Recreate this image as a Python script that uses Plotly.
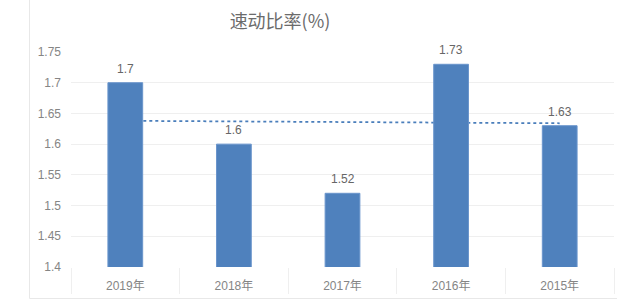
import plotly.graph_objects as go

categories = ["2019年", "2018年", "2017年", "2016年", "2015年"]
values = [1.7, 1.6, 1.52, 1.73, 1.63]
trend = [1.638, 1.637, 1.636, 1.635, 1.634]
ytick_vals = [1.4, 1.45, 1.5, 1.55, 1.6, 1.65, 1.7, 1.75]
ytick_text = ["1.4", "1.45", "1.5", "1.55", "1.6", "1.65", "1.7", "1.75"]
title = "速动比率(%)"

W, H = 617, 307
L, R, T, B = 71, 3, 52, 40
pw = W - L - R
ph = H - T - B

def px_x(x):
    return (x - L) / pw

def px_y(y):
    return (H - B - y) / ph

FONT = "Liberation Sans, Arial, Noto Sans CJK SC, sans-serif"

fig = go.Figure()
fig.add_trace(go.Scatter(
    x=categories, y=trend, mode="lines",
    line=dict(color="#4a7ebb", width=1.75, dash="dot"),
    hoverinfo="skip", showlegend=False, zorder=-1,
))
fig.add_trace(go.Bar(
    x=categories, y=values,
    marker=dict(color="#4f81bd", line=dict(color="#6a95cc", width=1)),
    width=0.32, showlegend=False, zorder=0,
))

for c, v in zip(categories, values):
    fig.add_annotation(x=c, y=v, text=str(v), showarrow=False,
                       yanchor="bottom", yshift=5,
                       font=dict(family=FONT, size=12, color="#666666"))

fig.update_layout(
    width=W, height=H,
    margin=dict(l=L, r=R, t=T, b=B),
    paper_bgcolor="white", plot_bgcolor="white",
    font=dict(family=FONT, color="#7f7f7f", size=12),
    title=dict(text=title, xref="container", x=280 / W, xanchor="center",
               yref="container", y=1 - 22 / H, yanchor="middle",
               font=dict(family="Noto Sans CJK SC, " + FONT, size=18, color="#6b6b6b")),
    xaxis=dict(
        type="category", showgrid=False, tickson="boundaries",
        ticks="outside", ticklen=26, tickcolor="#efefef", tickwidth=1,
        showline=True, linecolor="#e6e6e6", linewidth=1,
        ticklabelstandoff=8,
        tickfont=dict(family=FONT + ", Noto Sans CJK SC", size=12, color="#858585"),
        range=[-0.5, 4.5],
    ),
    yaxis=dict(
        range=[1.4, 1.75], tickvals=ytick_vals, ticktext=ytick_text,
        showgrid=True, gridcolor="#efefef", gridwidth=1, zeroline=False,
        showline=False, ticks="", ticklabelstandoff=9,
        tickfont=dict(family=FONT, size=12, color="#858585"),
    ),
)

fig.add_shape(type="rect", xref="paper", yref="paper",
              x0=px_x(29.5), x1=px_x(W + 5), y0=px_y(298.5), y1=px_y(-5),
              line=dict(color="#e8e8e8", width=1), fillcolor="rgba(0,0,0,0)", layer="below")

fig.write_html("out.html")
